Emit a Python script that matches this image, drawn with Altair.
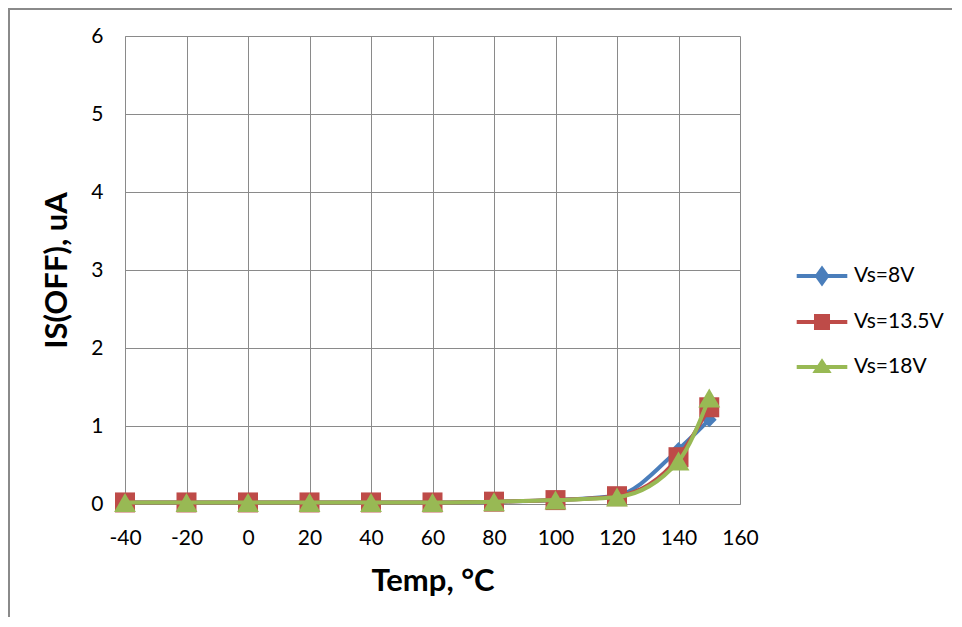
import altair as alt
import pandas as pd

temps = [-40, -20, 0, 20, 40, 60, 80, 100, 120, 140, 150]
series_names = ["Vs=8V", "Vs=13.5V", "Vs=18V"]
vs8 = [0.02, 0.02, 0.02, 0.02, 0.02, 0.02, 0.03, 0.05, 0.11, 0.70, 1.08]
vs135 = [0.02, 0.02, 0.02, 0.02, 0.02, 0.02, 0.03, 0.05, 0.10, 0.60, 1.24]
vs18 = [0.02, 0.02, 0.02, 0.02, 0.02, 0.02, 0.03, 0.05, 0.09, 0.55, 1.36]
colors = ["#4a7ebb", "#be4b48", "#98b954"]
shapes = ["diamond", "square", "triangle-up"]
sizes = [220, 400, 480]
legend_paths = [
    "M-1.15,0H1.15M0,-0.32L0.23,0L0,0.32L-0.23,0ZM0,-0.1L0.07,0L0,0.1L-0.07,0Z",
    "M-1.15,0H1.15M-0.273,-0.273H0.273V0.273H-0.273ZM-0.091,-0.091H0.091V0.091H-0.091Z",
    "M-1.15,0H1.15M0,-0.23L0.27,0.18L-0.27,0.18ZM0,-0.05L0.09,0.14L-0.09,0.14Z",
]

rows = []
for name, vals in zip(series_names, [vs8, vs135, vs18]):
    for t, v in zip(temps, vals):
        rows.append({"temp": t, "iso": v, "series": name})
df = pd.DataFrame(rows)

FONT = "Lato"

x = alt.X(
    "temp:Q",
    scale=alt.Scale(domain=[-40, 160], nice=False, zero=False),
    axis=alt.Axis(values=list(range(-40, 161, 20)), title="Temp, °C",
                  labelPadding=23, titlePadding=18, labelFlush=False,
                  labelExpr="'' + datum.value"),
)
y = alt.Y(
    "iso:Q",
    scale=alt.Scale(domain=[0, 6], nice=False),
    axis=alt.Axis(values=[0, 1, 2, 3, 4, 5, 6], title="IS(OFF), uA",
                  labelPadding=22, titlePadding=17, labelExpr="'' + datum.value"),
)

legend_def = alt.Legend(
    title=None,
    orient="none",
    legendX=673,
    legendY=216,
    symbolSize=1936,
    symbolStrokeWidth=4,
    labelOffset=8,
    labelFont=FONT,
    labelFontSize=21,
    labelColor="#000000",
    symbolOpacity=1,
)

color = alt.Color("series:N", scale=alt.Scale(domain=series_names, range=colors),
                  legend=legend_def)

layers = []
frame = alt.Chart(alt.Data(values=[{"a": 1}])).mark_rect(
    fill="transparent", stroke="#8a8a8a", strokeWidth=2
).encode(x=alt.value(-116), x2=alt.value(2000), y=alt.value(-27), y2=alt.value(2000))
layers.append(frame)

for i, name in enumerate(series_names):
    base = alt.Chart(df).transform_filter(alt.datum.series == name)
    layers.append(
        base.mark_line(interpolate="monotone", strokeWidth=4).encode(x=x, y=y, color=color)
    )
    layers.append(
        base.mark_point(shape=shapes[i], filled=True, size=sizes[i], opacity=1).encode(
            x=x, y=y, color=color
        )
    )

legend_layer = alt.Chart(df).mark_point(opacity=0, filled=False).encode(
    x=x, y=y, color=color,
    shape=alt.Shape("series:N", scale=alt.Scale(domain=series_names, range=legend_paths),
                    legend=legend_def),
)
layers.append(legend_layer)

chart = alt.layer(*layers).properties(
    width=615,
    height=468,
    autosize=alt.AutoSizeParams(type="none"),
    padding={"left": 117, "top": 28, "right": 212, "bottom": 113},
    background="white",
).configure_view(stroke=None).configure_axis(
    gridColor="#8a8a8a",
    gridWidth=1,
    domainColor="#8a8a8a",
    domainWidth=1,
    ticks=False,
    labelFont=FONT,
    labelFontSize=21,
    labelColor="#000000",
    titleFont=FONT,
    titleFontSize=31,
    titleFontWeight="bold",
    titleColor="#000000",
).configure_legend(
    padding=0,
    rowPadding=6,
)

chart.save("out.html", embed_options={"renderer": "svg", "actions": False})
